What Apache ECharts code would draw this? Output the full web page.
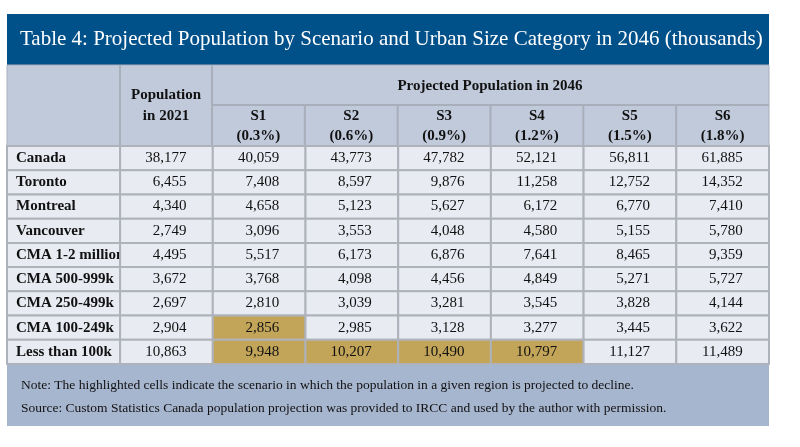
<!DOCTYPE html>
<html>
<head>
<meta charset="utf-8">
<script src="https://cdn.jsdelivr.net/npm/echarts@6/dist/echarts.min.js"></script>
<style>html,body{margin:0;padding:0;background:#fff}#chart{width:800px;height:447px}</style>
</head>
<body>
<div id="chart"></div>
<script>
// table content
const regions = ["Canada", "Toronto", "Montreal", "Vancouver", "CMA 1-2 million", "CMA 500-999k", "CMA 250-499k", "CMA 100-249k", "Less than 100k"];
const scenarios = ["S1", "S2", "S3", "S4", "S5", "S6"];
const rates = ["(0.3%)", "(0.6%)", "(0.9%)", "(1.2%)", "(1.5%)", "(1.8%)"];
const pop2021 = [38177, 6455, 4340, 2749, 4495, 3672, 2697, 2904, 10863];
const s1 = [40059, 7408, 4658, 3096, 5517, 3768, 2810, 2856, 9948];
const s2 = [43773, 8597, 5123, 3553, 6173, 4098, 3039, 2985, 10207];
const s3 = [47782, 9876, 5627, 4048, 6876, 4456, 3281, 3128, 10490];
const s4 = [52121, 11258, 6172, 4580, 7641, 4849, 3545, 3277, 10797];
const s5 = [56811, 12752, 6770, 5155, 8465, 5271, 3828, 3445, 11127];
const s6 = [61885, 14352, 7410, 5780, 9359, 5727, 4144, 3622, 11489];
// cells where the region declines: [row, scenario index]
const declines = [[7, 0], [8, 0], [8, 1], [8, 2], [8, 3]];

const title = "Table 4: Projected Population by Scenario and Urban Size Category in 2046 (thousands)";
const note1 = "Note: The highlighted cells indicate the scenario in which the population in a given region is projected to decline.";
const note2 = "Source: Custom Statistics Canada population projection was provided to IRCC and used by the author with permission.";

const serif = "'Liberation Serif', 'DejaVu Serif', serif";
const labelW = 1.22; // label column width in data-column units
const cols = [pop2021, s1, s2, s3, s4, s5, s6];

const cells = [];
regions.forEach((r, i) => {
    cells.push([-labelW, i, r, 0]);
    cols.forEach((c, j) => {
        const hl = j > 0 && declines.some(d => d[0] === i && d[1] === j - 1) ? 1 : 0;
        cells.push([j, i, c[i].toLocaleString('en-US'), hl]);
    });
});

const chart = echarts.init(document.getElementById('chart'));
chart.setOption({
    animation: false,
    grid: {left: 7, right: 31, top: 146, bottom: 83},
    xAxis: {type: 'value', min: -labelW, max: 7, show: false},
    yAxis: {type: 'category', data: regions, inverse: true, show: false},
    graphic: [
        {type: 'rect', shape: {x: 7, y: 14, width: 762, height: 51}, style: {fill: '#00508a'}},
        {type: 'text', left: 20, top: 29, style: {text: title, fill: '#fff', font: '21px ' + serif}},
        {type: 'rect', shape: {x: 7, y: 65, width: 762, height: 81}, style: {fill: '#c0cadb', stroke: '#a9aebb', lineWidth: 1}},
        {type: 'line', shape: {x1: 120, y1: 65, x2: 120, y2: 146}, style: {stroke: '#a9aebb', lineWidth: 2}},
        {type: 'line', shape: {x1: 212, y1: 65, x2: 212, y2: 146}, style: {stroke: '#a9aebb', lineWidth: 2}},
        {type: 'line', shape: {x1: 212, y1: 105, x2: 769, y2: 105}, style: {stroke: '#a9aebb', lineWidth: 2}},
        {type: 'text', x: 166, y: 106, style: {text: 'Population\nin 2021', align: 'center', verticalAlign: 'middle', lineHeight: 21, fill: '#111', font: 'bold 15px ' + serif}},
        {type: 'text', x: 490, y: 86, style: {text: 'Projected Population in 2046', align: 'center', verticalAlign: 'middle', fill: '#111', font: 'bold 15px ' + serif}},
        {type: 'rect', shape: {x: 7, y: 364, width: 762, height: 62}, style: {fill: '#a7b6cf'}},
        {type: 'text', x: 21, y: 385, style: {text: note1, verticalAlign: 'middle', fill: '#111', font: '13.5px ' + serif}},
        {type: 'text', x: 21, y: 408, style: {text: note2, verticalAlign: 'middle', fill: '#111', font: '13.5px ' + serif}}
    ].concat(scenarios.map((s, j) => {
        const cx = 212 + (j + 0.5) * (557 / 6);
        return {type: 'text', x: cx, y: 126, style: {text: s + '\n' + rates[j], align: 'center', verticalAlign: 'middle', lineHeight: 20, fill: '#111', font: 'bold 15px ' + serif}};
    })).concat(scenarios.slice(1).map((s, j) => {
        const x = 212 + (j + 1) * (557 / 6);
        return {type: 'line', shape: {x1: x, y1: 105, x2: x, y2: 146}, style: {stroke: '#a9aebb', lineWidth: 2}};
    })),
    series: [{
        type: 'custom',
        data: cells,
        encode: {x: 0, y: 1},
        renderItem(params, api) {
            const x0 = api.value(0);
            const w = x0 < 0 ? labelW : 1;
            const p0 = api.coord([x0, api.value(1)]);
            const p1 = api.coord([x0 + w, api.value(1)]);
            const h = api.size([0, 1])[1];
            const isLabel = x0 < 0;
            const txt = String(cells[params.dataIndex][2]);
            return {
                type: 'group',
                children: [
                    {type: 'rect', shape: {x: p0[0], y: p0[1] - h / 2, width: p1[0] - p0[0], height: h},
                        style: {fill: api.value(3) ? '#c3a55a' : '#e9ebf3', stroke: '#aeb2bb', lineWidth: 2}},
                    {type: 'text', x: isLabel ? p0[0] + 9 : (p0[0] + p1[0]) / 2 + 20, y: p0[1],
                        style: {text: txt, align: isLabel ? 'left' : 'right', verticalAlign: 'middle',
                            fill: '#111', font: (isLabel ? 'bold ' : '') + '15px ' + serif}}
                ]
            };
        }
    }]
});
</script>
</body>
</html>
